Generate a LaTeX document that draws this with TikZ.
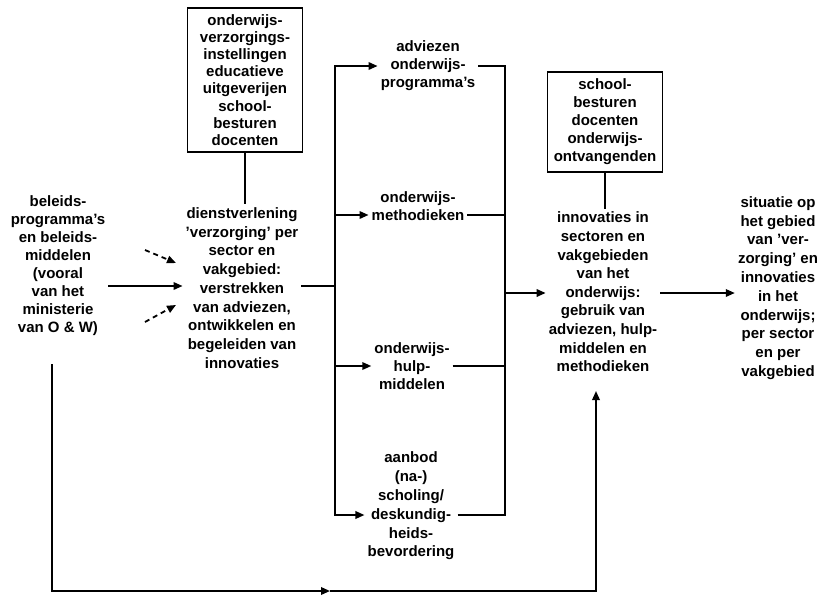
\documentclass[tikz,border=0pt]{standalone}
\usepackage{fontspec}
\setmainfont{Liberation Sans}
\usetikzlibrary{arrows.meta}

\tikzset{
  txt/.style={align=center, inner sep=3pt,
    font=\fontsize{15}{18}\selectfont\bfseries},
  boxed/.style={txt, draw, line width=1.4pt, minimum width=115pt},
  ln/.style={line width=1.8pt},
  arr/.style={ln, -{Triangle[length=9pt,width=7.5pt]}},
  dsh/.style={arr, dash pattern=on 5pt off 4pt},
}

\begin{document}
\begin{tikzpicture}[x=1pt, y=-1pt]
\useasboundingbox (0,0) rectangle (828,598);

% text blocks
\node[txt] (pol) at (58,266) {beleids-\\programma's\\en beleids-\\middelen\\(vooral\\van het\\ministerie\\van O \& W)};
\node[boxed, minimum height=144pt, font=\fontsize{15}{17.2}\selectfont\bfseries] (inst) at (245,80)
  {onderwijs-\\verzorgings-\\instellingen\\educatieve\\uitgeverijen\\school-\\besturen\\docenten};
\node[txt, font=\fontsize{15}{18.75}\selectfont\bfseries] (dienst) at (242,288)
  {dienstverlening\\'verzorging' per\\sector en\\vakgebied:\\verstrekken\\van adviezen,\\ontwikkelen en\\begeleiden van\\innovaties};

\node[txt] (adv) at (428,66) {adviezen\\onderwijs-\\programma's};
\node[txt] (meth) at (418,206) {onderwijs-\\methodieken};
\node[txt] (hulp) at (412,366) {onderwijs-\\hulp-\\middelen};
\node[txt, font=\fontsize{15}{18.8}\selectfont\bfseries] (aanb) at (411,506)
  {aanbod\\(na-)\\scholing/\\deskundig-\\heids-\\bevordering};

\node[boxed, minimum height=100pt] (ontv) at (605,122) {school-\\besturen\\docenten\\onderwijs-\\ontvangenden};
\node[txt, font=\fontsize{15}{18.6}\selectfont\bfseries] (innov) at (603,292)
  {innovaties in\\sectoren en\\vakgebieden\\van het\\onderwijs:\\gebruik van\\adviezen, hulp-\\middelen en\\methodieken};
\node[txt, font=\fontsize{15}{18.8}\selectfont\bfseries] (sit) at (778,288)
  {situatie op\\het gebied\\van 'ver-\\zorging' en\\innovaties\\in het\\onderwijs;\\per sector\\en per\\vakgebied};

% bus junctions
\coordinate (jL) at (335,286);
\coordinate (jM) at (335,215);
\coordinate (jA) at (335,515);
\coordinate (jR) at (505,293);
\coordinate (kM) at (505,215);
\coordinate (kA) at (505,515);

% inputs into the service block
\draw[arr] (pol.east |- jL) -- (jL -| dienst.west);
\coordinate (da1) at (145,250);
\coordinate (da2) at (176,263);
\coordinate (db1) at (145,322);
\coordinate (db2) at (176,305);
\draw[dsh] (da1) -- (da2);
\draw[dsh] (db1) -- (db2);
\draw[ln] (inst.south) -- (inst.south |- dienst.north);

% distribution to the four products
\draw[ln] (dienst.east |- jL) -- (jL);
\draw[arr] (jL) |- (adv.west);
\draw[arr] (jL) -- (jM) -- (jM -| meth.west);
\draw[arr] (jL) |- (hulp.west);
\draw[arr] (jL) -- (jA) -- (jA -| aanb.west);

% collection towards the innovations
\draw[ln] (adv.east) -| (jR);
\draw[ln] (kM -| meth.east) -- (kM) -- (jR);
\draw[ln] (hulp.east) -| (jR);
\draw[ln] (kA -| aanb.east) -- (kA) -- (jR);
\draw[arr] (jR) -- (jR -| innov.west);
\draw[ln] (ontv.south) -- (ontv.south |- innov.north);
\draw[arr] (innov.east |- jR) -- (jR -| sit.west);

% direct route along the bottom
\coordinate (fbM) at (330,591);
\coordinate (fbTip) at (596,391);
\draw[arr] (pol.south) ++(-6,25) |- (fbM);
\draw[arr] (fbM) -| (fbTip);
\end{tikzpicture}
\end{document}
